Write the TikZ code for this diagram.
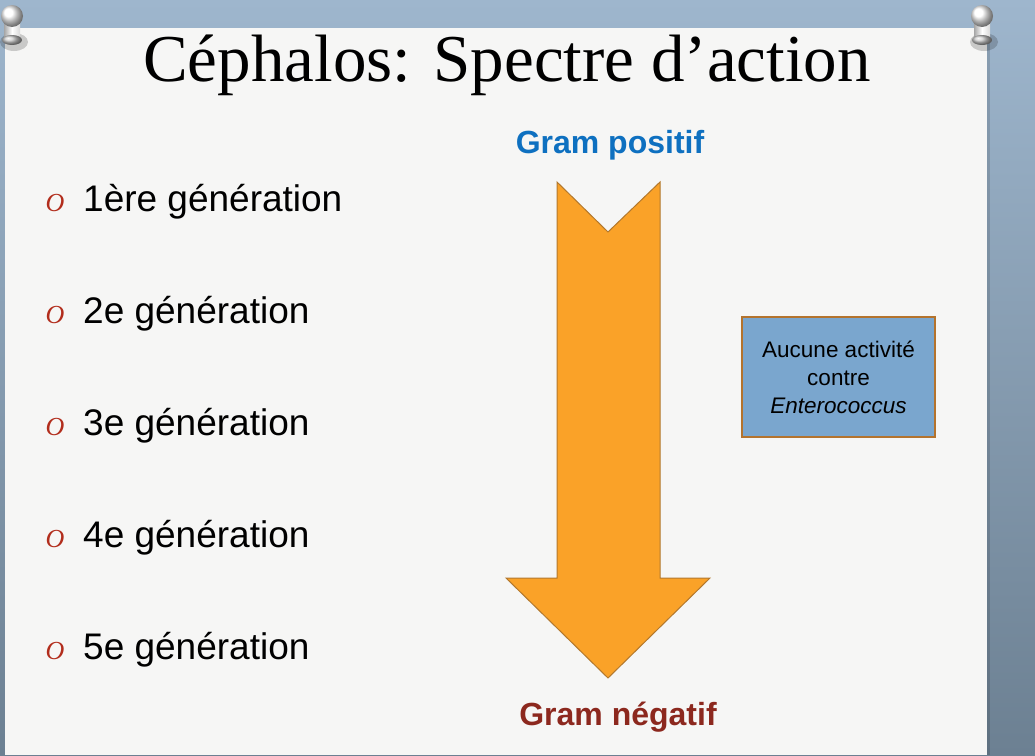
\documentclass[tikz,border=0pt]{standalone}
\usepackage{fontspec}
\usepackage{tikz}
\usetikzlibrary{calc,positioning}
\newfontfamily\bodysans{Liberation Sans}
\newfontfamily\titleserif{Liberation Serif}
\definecolor{framehi}{RGB}{158,182,205}
\definecolor{framelo}{RGB}{108,128,146}
\definecolor{paper}{RGB}{246,246,245}
\definecolor{bulletred}{RGB}{178,45,28}
\definecolor{posblue}{RGB}{14,112,192}
\definecolor{negred}{RGB}{140,40,30}
\definecolor{arrowfill}{RGB}{250,162,40}
\definecolor{arrowline}{RGB}{178,120,45}
\definecolor{boxfill}{RGB}{122,166,206}
\definecolor{boxline}{RGB}{180,115,45}

\begin{document}
\begin{tikzpicture}[x=1pt,y=-1pt,
    gen/.style={anchor=base west,inner sep=0pt,font=\bodysans\fontsize{37}{40}\selectfont},
    bul/.style={anchor=base,inner sep=0pt,text=bulletred,font=\titleserif\itshape\fontsize{26}{28}\selectfont},
    gram/.style={anchor=base,inner sep=0pt,font=\bodysans\bfseries\fontsize{32}{36}\selectfont}]
  \useasboundingbox (0,0) rectangle (1035,755);
  \shade[top color=framehi,bottom color=framelo] (0,0) rectangle (1035,755);
  \fill[black,opacity=0.12] (8,30) rectangle (990,755);
  \fill[paper] (5,28) rectangle (987,755);

  \node[anchor=base,inner sep=0pt,font=\titleserif\fontsize{67}{72}\selectfont] (title) at (507,81)
    {Céphalos: Spectre d’action};

  \foreach \i/\lab in {1/1ère,2/2e,3/3e,4/4e,5/5e}{
    \node[bul] (b\i) at (55,99+112*\i) {O};
    \node[gen] (g\i) at (83,99+112*\i) {\lab\ génération};
  }

  \node[gram,text=posblue] (gpos) at (610,153) {Gram positif};
  \node[gram,text=negred] (gneg) at (618,725) {Gram négatif};

  \filldraw[fill=arrowfill,draw=arrowline,line width=1pt,line join=miter]
    (557,182) -- (608,232) -- (660,182) -- (660,578) -- (710,578)
    -- (608,678) -- (506,578) -- (557,578) -- cycle;

  \node[draw=boxline,fill=boxfill,line width=1.5pt,minimum width=193pt,minimum height=120pt,
        align=center,font=\bodysans\fontsize{22.5}{28}\selectfont] (box) at (838.5,377)
    {Aucune activité\\contre\\\textit{Enterococcus}};

  \foreach \px/\py in {12/16,982/16}{
    \fill[black,opacity=0.18] (\px+2,\py+26) ellipse (14 and 9);
    \shade[left color=gray!70,right color=gray!30,middle color=white] (\px-8,\py) rectangle (\px+8,\py+24);
    \shade[ball color=gray!40] (\px,\py+24) ellipse (10 and 5);
    \shade[ball color=white] (\px,\py) circle (11);
  }
\end{tikzpicture}
\end{document}
